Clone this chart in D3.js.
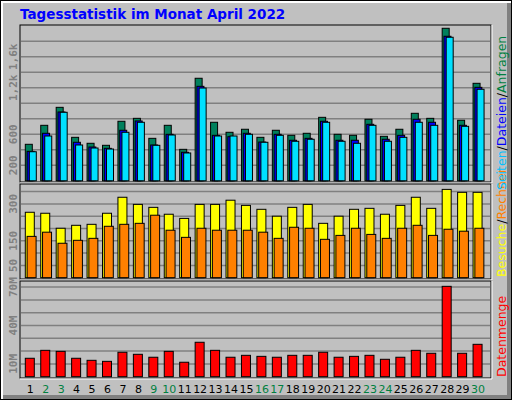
<!DOCTYPE html>
<html><head><meta charset="utf-8">
<script src="https://cdn.jsdelivr.net/npm/d3@7"></script>
<style>body{margin:0}svg{display:block}</style>
</head><body>
<svg id="c" width="512" height="400"></svg>
<script>
var days = d3.range(1, 31)
var weekend = [2, 3, 9, 10, 16, 17, 23, 24, 30]
var hits  = [471,716,948,561,484,458,768,806,548,716,406,1323,755,626,665,561,652,587,613,819,600,587,794,574,665,871,806,1968,781,1258]
var files = [380,613,888,497,436,419,652,772,462,600,368,1219,587,569,613,500,600,523,548,768,523,523,729,536,587,794,755,1865,716,1206]
var pages = [375,578,884,462,423,410,626,755,458,591,359,1197,578,578,600,497,587,510,536,755,510,484,716,510,561,755,716,1852,703,1181]
var visits = [266,262,201,213,217,262,327,298,286,258,241,298,298,315,294,278,250,286,298,221,250,278,282,258,294,327,282,359,347,347]
var sites  = [168,185,140,152,160,209,217,221,254,193,164,201,193,193,193,185,160,205,201,156,172,201,176,160,201,213,172,197,189,201]
var volume = [14.4,20.6,19.8,14.4,12.8,12.0,19.1,17.5,15.2,19.8,11.3,26.9,20.6,15.2,16.7,15.9,15.2,16.7,16.7,19.1,15.2,15.9,16.7,13.6,15.2,20.6,18.3,70.6,18.3,25.3]

var svg = d3.select('#c')
var font = 'DejaVu Sans'

// frame
svg.append('rect').attr('width', 512).attr('height', 400).attr('fill', '#000')
svg.append('rect').attr('x', 1).attr('y', 1).attr('width', 510).attr('height', 398).attr('fill', '#fff')
svg.append('rect').attr('x', 3).attr('y', 3).attr('width', 508).attr('height', 396).attr('fill', '#808080')
svg.append('rect').attr('x', 3).attr('y', 3).attr('width', 504).attr('height', 392).attr('fill', '#c0c0c0')

svg.append('text').attr('x', 20).attr('y', 19).attr('fill', '#0000ff')
  .attr('font-family', font).attr('font-weight', 'bold').attr('font-size', 13.5)
  .text('Tagesstatistik im Monat April 2022')

var x = d3.scaleLinear().domain([1, 30]).range([25.3, 25.3 + 29 * 15.44])

function panel(top, bottom, base, y, ticks, labels) {
  var g = svg.append('g')
  g.append('rect').attr('x', 20).attr('y', top).attr('width', 471).attr('height', bottom - top)
    .attr('fill', '#c0c0c0').attr('stroke', '#000')
  g.append('line').attr('x1', 20).attr('x2', 492).attr('y1', bottom + 1).attr('y2', bottom + 1).attr('stroke', '#fff')
  g.append('line').attr('x1', 492).attr('x2', 492).attr('y1', top).attr('y2', bottom + 1).attr('stroke', '#fff')
  g.selectAll('.grid').data(ticks).enter().append('line')
    .attr('x1', 21).attr('x2', 490).attr('y1', d => y(d)).attr('y2', d => y(d))
    .attr('stroke', '#808080').attr('stroke-width', 1.5)
  g.selectAll('.lab').data(labels).enter().append('text')
    .attr('transform', d => 'translate(17,' + y(d[0]) + ') rotate(-90)')
    .attr('text-anchor', 'middle').attr('fill', '#808080')
    .attr('font-family', 'DejaVu Sans Mono').attr('font-weight', 'bold').attr('font-size', 11)
    .text(d => d[1])
  return g
}

function bars(g, vals, y, dx, w, color) {
  g.selectAll(null).data(vals).enter().append('rect')
    .attr('x', (d, i) => x(days[i]) + dx).attr('width', w)
    .attr('y', d => y(d)).attr('height', d => y(0) - y(d))
    .attr('fill', color).attr('stroke', '#000')
}

// top panel
var y1 = d3.scaleLinear().domain([0, 200]).range([180.8, 165.3])
var g1 = panel(25, 182, 180.8, y1, d3.range(200, 1801, 200), [[200, '200'], [600, '600'], [1200, '1,2k'], [1600, '1,6k']])
bars(g1, hits, y1, 0, 7, '#00805c')
bars(g1, files, y1, 1.8, 7, '#0000ff')
bars(g1, pages, y1, 4, 7, '#00e0ff')

// middle panel
var y2 = d3.scaleLinear().domain([0, 50]).range([277.7, 265.4])
var g2 = panel(184, 279, 277.7, y2, d3.range(50, 351, 50), [[50, '50'], [150, '150'], [300, '300']])
bars(g2, visits, y2, 0, 9, '#ffff00')
bars(g2, sites, y2, 1.8, 9, '#ff8000')

// bottom panel
var y3 = d3.scaleLinear().domain([0, 10]).range([376.7, 363.9])
var g3 = panel(281, 378, 376.7, y3, d3.range(10, 71, 10).concat([75]).map(d => d === 75 ? 76 : d).slice(0, 7).map((d, i) => [10, 20, 30, 40, 50, 60, 70][i] + (i ? 0 : 0)), [[10, '10M'], [40, '40M'], [70, '70M']])
bars(g3, volume, y3, 0, 9, '#ff0000')

svg.selectAll('.day').data(days).enter().append('text')
  .attr('x', d => x(d) + 5).attr('y', 393).attr('text-anchor', 'middle')
  .attr('font-family', font).attr('font-size', 11)
  .attr('fill', d => weekend.includes(d) ? '#008040' : '#000')
  .text(d => d)

function sideLabel(yStart, parts) {
  var t = svg.append('text').attr('transform', 'translate(506,' + yStart + ') rotate(-90)')
    .attr('font-family', font).attr('font-size', 12.5)
  parts.forEach(p => t.append('tspan').attr('fill', p[1]).text(p[0]))
}
sideLabel(277, [['Besuche', '#ffff00'], ['/', '#000'], ['Rechner', '#ff8000']])
sideLabel(190, [['Seiten', '#00c0ff'], ['/', '#000'], ['Dateien', '#0000ff'], ['/', '#000'], ['Anfragen', '#008040']])
sideLabel(377, [['Datenmenge', '#ff0000']])
</script>
</body></html>
